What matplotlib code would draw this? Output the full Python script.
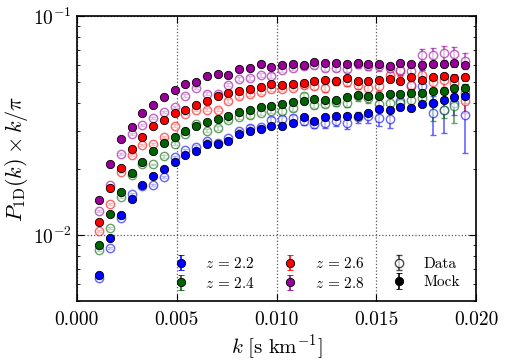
import numpy as np
import matplotlib
matplotlib.use("Agg")
import matplotlib.pyplot as plt
from matplotlib.ticker import NullFormatter, MultipleLocator

plt.rcParams['font.family'] = 'serif'
plt.rcParams['font.serif'] = ['cmr10']
plt.rcParams['mathtext.fontset'] = 'cm'
plt.rcParams['axes.formatter.use_mathtext'] = True

# k bins [s/km]
k = [0.00112, 0.00166, 0.00220, 0.00274, 0.00328, 0.00382, 0.00435, 0.00489,
     0.00543, 0.00597, 0.00651, 0.00705, 0.00759, 0.00813, 0.00867, 0.00921,
     0.00974, 0.01028, 0.01082, 0.01136, 0.01190, 0.01244, 0.01298, 0.01352,
     0.01406, 0.01460, 0.01513, 0.01567, 0.01621, 0.01675, 0.01729, 0.01783,
     0.01837, 0.01891, 0.01945]

redshifts = ['2.2', '2.4', '2.6', '2.8']
colors = ['#0000ff', '#006400', '#ff0000', '#990099']

# Data (open symbols), P1D * k / pi
data_22 = [0.00637, 0.00875, 0.0120, 0.0154, 0.0167, 0.0169, 0.0184, 0.0227,
           0.0244, 0.0252, 0.0268, 0.0264, 0.0276, 0.0298, 0.0309, 0.0310,
           0.0334, 0.0338, 0.0341, 0.0331, 0.0321, 0.0323, 0.0330, 0.0323,
           0.0344, 0.0349, 0.0343, 0.0338, 0.0408, 0.0481, 0.0481, 0.0359,
           0.0374, 0.0400, 0.0352]
data_24 = [0.00855, 0.0108, 0.0149, 0.0187, 0.0212, 0.0210, 0.0229, 0.0261,
           0.0290, 0.0321, 0.0300, 0.0307, 0.0336, 0.0346, 0.0352, 0.0362,
           0.0368, 0.0368, 0.0381, 0.0430, 0.0394, 0.0398, 0.0404, 0.0401,
           0.0429, 0.0423, 0.0398, 0.0401, 0.0402, 0.0415, 0.0423, 0.0401,
           0.0374, 0.0387, 0.0445]
data_26 = [0.0104, 0.0138, 0.0194, 0.0233, 0.0258, 0.0260, 0.0281, 0.0316,
           0.0357, 0.0373, 0.0373, 0.0374, 0.0408, 0.0430, 0.0439, 0.0450,
           0.0464, 0.0464, 0.0471, 0.0484, 0.0477, 0.0467, 0.0503, 0.0500,
           0.0484, 0.0467, 0.0477, 0.0539, 0.0562, 0.0486, 0.0539, 0.0498,
           0.0509, 0.0495, 0.0411]
data_28 = [0.0129, 0.0170, 0.0235, 0.0290, 0.0319, 0.0343, 0.0365, 0.0385,
           0.0433, 0.0469, 0.0442, 0.0442, 0.0486, 0.0516, 0.0521, 0.0539,
           0.0534, 0.0568, 0.0578, 0.0593, 0.0594, 0.0578, 0.0578, 0.0573,
           0.0602, 0.0593, 0.0588, 0.0578, 0.0564, 0.0558, 0.0665, 0.0665,
           0.0680, 0.0672, 0.0624]

# Mock (filled symbols)
mock_22 = [0.00658, 0.00969, 0.0123, 0.0146, 0.0169, 0.0186, 0.0201, 0.0215,
           0.0232, 0.0242, 0.0259, 0.0261, 0.0270, 0.0288, 0.0297, 0.0306,
           0.0315, 0.0316, 0.0325, 0.0344, 0.0333, 0.0347, 0.0349, 0.0349,
           0.0350, 0.0359, 0.0377, 0.0371, 0.0383, 0.0380, 0.0397, 0.0400,
           0.0413, 0.0425, 0.0432]
mock_24 = [0.00901, 0.0125, 0.0158, 0.0191, 0.0216, 0.0241, 0.0263, 0.0281,
           0.0299, 0.0313, 0.0329, 0.0340, 0.0349, 0.0363, 0.0374, 0.0382,
           0.0390, 0.0398, 0.0405, 0.0411, 0.0418, 0.0415, 0.0414, 0.0425,
           0.0436, 0.0431, 0.0430, 0.0442, 0.0442, 0.0445, 0.0445, 0.0452,
           0.0456, 0.0469, 0.0471]
mock_26 = [0.0115, 0.0164, 0.0203, 0.0248, 0.0280, 0.0316, 0.0336, 0.0360,
           0.0373, 0.0394, 0.0409, 0.0430, 0.0447, 0.0455, 0.0462, 0.0472,
           0.0487, 0.0484, 0.0487, 0.0492, 0.0505, 0.0510, 0.0505, 0.0521,
           0.0505, 0.0505, 0.0512, 0.0516, 0.0507, 0.0524, 0.0512, 0.0524,
           0.0530, 0.0523, 0.0524]
mock_28 = [0.0145, 0.0210, 0.0273, 0.0311, 0.0361, 0.0394, 0.0427, 0.0458,
           0.0489, 0.0498, 0.0534, 0.0543, 0.0539, 0.0570, 0.0578, 0.0605,
           0.0585, 0.0596, 0.0605, 0.0597, 0.0615, 0.0610, 0.0610, 0.0605,
           0.0607, 0.0602, 0.0602, 0.0593, 0.0612, 0.0605, 0.0599, 0.0605,
           0.0602, 0.0608, 0.0597]

# relative 1-sigma errors
data_err_22 = [0.01, 0.01, 0.01, 0.01, 0.01, 0.01, 0.015, 0.015, 0.015, 0.02,
               0.02, 0.02, 0.02, 0.025, 0.025, 0.03, 0.03, 0.03, 0.035, 0.04,
               0.045, 0.05, 0.05, 0.06, 0.06, 0.07, 0.08, 0.09, 0.08, 0.05,
               0.18, 0.20, 0.22, 0.12, 0.33]
data_err_24 = [0.01, 0.01, 0.01, 0.01, 0.01, 0.01, 0.015, 0.015, 0.015, 0.015,
               0.02, 0.02, 0.02, 0.02, 0.025, 0.025, 0.025, 0.03, 0.03, 0.035,
               0.035, 0.04, 0.04, 0.045, 0.05, 0.05, 0.055, 0.06, 0.06, 0.07,
               0.08, 0.17, 0.09, 0.16, 0.10]
data_err_26 = [0.01, 0.01, 0.01, 0.01, 0.01, 0.01, 0.01, 0.015, 0.015, 0.015,
               0.015, 0.02, 0.02, 0.02, 0.02, 0.025, 0.025, 0.025, 0.03, 0.03,
               0.03, 0.035, 0.035, 0.04, 0.04, 0.045, 0.05, 0.05, 0.055, 0.06,
               0.06, 0.07, 0.07, 0.08, 0.12]
data_err_28 = [0.01, 0.01, 0.01, 0.01, 0.01, 0.01, 0.01, 0.01, 0.015, 0.015,
               0.015, 0.015, 0.02, 0.02, 0.02, 0.02, 0.025, 0.025, 0.025, 0.03,
               0.03, 0.03, 0.035, 0.035, 0.04, 0.04, 0.045, 0.05, 0.05, 0.06,
               0.06, 0.07, 0.07, 0.07, 0.08]
mock_err = [0.005, 0.005, 0.005, 0.005, 0.005, 0.005, 0.005, 0.008, 0.008,
            0.008, 0.01, 0.01, 0.01, 0.01, 0.012, 0.012, 0.012, 0.015, 0.015,
            0.015, 0.015, 0.018, 0.018, 0.02, 0.02, 0.02, 0.022, 0.025, 0.025,
            0.025, 0.03, 0.03, 0.03, 0.035, 0.035]

data = [data_22, data_24, data_26, data_28]
mock = [mock_22, mock_24, mock_26, mock_28]
data_err = [data_err_22, data_err_24, data_err_26, data_err_28]

fig = plt.figure(figsize=(5.06, 3.61), dpi=100)
ax = fig.add_axes([0.152, 0.166, 0.789, 0.79])

kk = np.array(k)
for d, de, c in zip(data, data_err, colors):
    d = np.array(d)
    ax.errorbar(kk, d, yerr=d * np.array(de), fmt='o', mfc='white', mec=c,
                ecolor=c, ms=6, mew=1, capsize=2.5, elinewidth=1.2,
                alpha=0.6, zorder=2)
for m, c in zip(mock, colors):
    m = np.array(m)
    ax.errorbar(kk, m, yerr=m * np.array(mock_err), fmt='o', mfc=c, mec='k',
                ecolor=c, ms=6, mew=0.6, capsize=2.5, elinewidth=1.2,
                zorder=3)

# legend proxies
handles, labels = [], []
for z, c in zip(redshifts, colors):
    h = ax.errorbar([np.nan], [np.nan], yerr=[1], fmt='o', mfc=c, mec='k',
                    ecolor=c, ms=6, mew=0.6, capsize=2.5, elinewidth=1.2)
    handles.append(h)
    labels.append(r'$z\,=\,%s$' % z)
h_data = ax.errorbar([np.nan], [np.nan], yerr=[1], fmt='o', mfc='white',
                     mec='k', ecolor='k', ms=6, mew=1, capsize=2.5,
                     elinewidth=1.2, alpha=0.7)
h_mock = ax.errorbar([np.nan], [np.nan], yerr=[1], fmt='o', mfc='k', mec='k',
                     ecolor='k', ms=6, mew=0.6, capsize=2.5, elinewidth=1.2)
handles += [h_data, h_mock]
labels += ['Data', 'Mock']

ax.legend(handles, labels, ncol=3, loc='lower right', frameon=False,
          numpoints=1, fontsize=11, handletextpad=0.6, columnspacing=1.3,
          labelspacing=0.3, bbox_to_anchor=(0.995, -0.012))

ax.set_yscale('log')
ax.set_xlim(0.0, 0.02)
ax.set_ylim(0.005, 0.1)
ax.xaxis.set_major_locator(MultipleLocator(0.005))
ax.xaxis.set_major_formatter(plt.FormatStrFormatter('%.3f'))
ax.yaxis.set_minor_formatter(NullFormatter())

ax.tick_params(which='both', direction='in', top=True, right=True,
               labelsize=14)
ax.tick_params(which='major', length=5, width=0.8)
ax.tick_params(which='minor', length=2.5, width=0.6)
ax.tick_params(axis='x', pad=7)
ax.grid(True, which='major', linestyle=':', color='0.35', linewidth=0.9)

for sp in ax.spines.values():
    sp.set_linewidth(1.2)

ax.set_xlabel(r'$k\ [\mathrm{s\ km^{-1}}]$', fontsize=15, labelpad=3)
ax.set_ylabel(r'$P_{\rm 1D}(k)\times k/\pi$', fontsize=16, labelpad=2)

fig.savefig('out.png', dpi=100)
